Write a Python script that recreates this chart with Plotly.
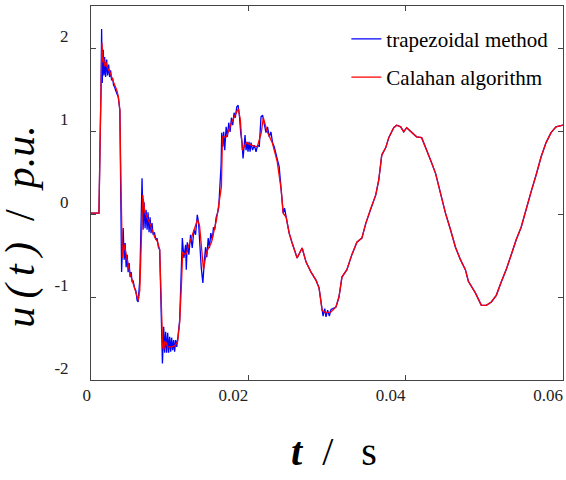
import plotly.graph_objects as go

# ---- data (time in ms, voltage in p.u.) ----
trap_t_ms = [
    0, 1.01, 1.27, 1.35, 1.43, 1.56, 1.65, 1.73, 1.86, 1.99,
    2.11, 2.24, 2.37, 2.49, 2.62, 2.75, 2.87, 3.00, 3.13, 3.25,
    3.46, 3.67, 3.80, 3.89, 4.09, 4.22, 4.34, 4.47, 4.60, 4.72,
    4.85, 4.97, 5.10, 5.23, 5.35, 5.53, 5.70, 5.86, 5.99, 6.20,
    6.49, 6.62, 6.75, 6.87, 7.00, 7.13, 7.25, 7.38, 7.51, 7.63,
    7.76, 7.89, 8.06, 8.23, 8.39, 8.57, 8.73, 8.95, 9.08, 9.24,
    9.37, 9.49, 9.62, 9.75, 9.87, 10.00, 10.13, 10.25, 10.38, 10.51,
    10.63, 10.76, 10.89, 11.05, 11.27, 11.61, 11.81, 12.03, 12.11, 12.24,
    12.44, 12.66, 12.87, 13.08, 13.29, 13.51, 13.67, 14.01, 14.22, 14.39,
    14.56, 14.72, 14.90, 15.06, 15.23, 15.41, 15.57, 15.73, 15.91, 16.08,
    16.24, 16.54, 16.62, 16.75, 16.87, 17.00, 17.18, 17.34, 17.51, 17.68,
    17.85, 18.01, 18.19, 18.35, 18.52, 18.70, 18.86, 19.03, 19.20, 19.33,
    19.46, 19.58, 19.71, 19.84, 19.96, 20.09, 20.22, 20.34, 20.54, 20.76,
    20.98, 21.18, 21.39, 21.61, 21.81, 22.03, 22.24, 22.44, 22.66, 22.87,
    23.08, 23.29, 23.51, 23.71, 23.92, 24.18, 24.43, 24.60, 24.81, 25.19,
    25.57, 26.20, 26.84, 27.34, 27.97, 28.61, 28.99, 29.37, 29.50, 29.72,
    29.87, 30.08, 30.30, 30.51, 31.14, 31.52, 31.90, 32.53, 33.16, 33.80,
    34.43, 34.94, 35.57, 36.20, 36.58, 36.96, 37.47, 37.85, 38.48, 38.86,
    39.37, 39.75, 40.13, 40.76, 41.39, 42.03, 42.53, 43.16, 43.80, 44.43,
    45.06, 45.70, 46.33, 46.96, 47.59, 47.97, 48.86, 49.62, 50.25, 50.89,
    51.52, 52.15, 52.78, 53.42, 54.05, 54.68, 55.32, 55.95, 56.58, 57.22,
    57.85, 58.48, 59.11, 59.75, 60.00,
]
trap_u = [
    0.01, 0.01, 1.50, 2.23, 1.58, 1.98, 1.67, 1.89, 1.65, 1.86,
    1.67, 1.80, 1.65, 1.73, 1.61, 1.64, 1.55, 1.53, 1.49, 1.46,
    1.41, 1.25, 0.41, -0.70, -0.17, -0.55, -0.35, -0.64, -0.49, -0.70,
    -0.59, -0.76, -0.70, -0.82, -0.80, -0.89, -0.92, -1.04, -1.06, -0.80,
    0.43, -0.19, 0.14, -0.17, 0.05, -0.19, 0.02, -0.22, -0.04, -0.23,
    -0.11, -0.25, -0.22, -0.31, -0.29, -0.40, -0.43, -1.48, -1.80, -1.36,
    -1.67, -1.42, -1.67, -1.43, -1.67, -1.48, -1.66, -1.49, -1.64, -1.52,
    -1.66, -1.52, -1.60, -1.48, -1.28, -0.29, -0.53, -0.37, -0.67, -0.34,
    -0.49, -0.25, -0.41, -0.19, -0.25, -0.01, -0.10, -0.64, -0.83, -0.59,
    -0.40, -0.52, -0.29, -0.41, -0.23, -0.31, -0.16, -0.19, -0.04, 0.01,
    0.08, 0.60, 0.98, 0.81, 0.99, 0.77, 1.05, 0.93, 1.10, 0.99,
    1.16, 1.07, 1.22, 1.16, 1.29, 1.31, 1.19, 0.98, 0.86, 0.67,
    0.81, 0.95, 0.77, 0.87, 0.75, 0.87, 0.75, 0.86, 0.77, 0.83,
    0.75, 0.83, 0.81, 1.17, 1.19, 1.07, 0.98, 1.05, 0.93, 0.99,
    0.86, 0.81, 0.71, 0.65, 0.57, 0.29, 0.01, 0.07, -0.04, -0.23,
    -0.35, -0.53, -0.41, -0.58, -0.70, -0.80, -0.89, -1.16, -1.23, -1.14,
    -1.24, -1.16, -1.23, -1.15, -1.12, -1.00, -0.76, -0.67, -0.49, -0.34,
    -0.29, -0.11, 0.07, 0.23, 0.41, 0.71, 0.80, 0.92, 1.04, 1.07,
    1.05, 0.99, 1.04, 0.99, 0.93, 0.92, 0.81, 0.65, 0.49, 0.25,
    0.01, -0.19, -0.40, -0.55, -0.67, -0.81, -0.95, -1.10, -1.10, -1.06,
    -0.98, -0.82, -0.67, -0.49, -0.31, -0.16, 0.07, 0.27, 0.47, 0.69,
    0.86, 0.98, 1.05, 1.07, 1.07,
]

cal_t_ms = [
    0, 1.01, 1.20, 1.39, 1.52, 1.58, 1.77, 1.90, 2.03, 2.40,
    2.78, 3.29, 3.48, 3.67, 3.80, 3.92, 3.99, 4.24, 4.43, 4.56,
    4.94, 5.32, 5.82, 6.01, 6.20, 6.39, 6.58, 6.84, 7.47, 8.10,
    8.48, 8.73, 8.92, 9.11, 9.24, 9.37, 9.49, 9.75, 10.25, 10.63,
    11.01, 11.27, 11.52, 11.65, 12.03, 12.53, 13.16, 13.54, 13.80, 14.05,
    14.30, 14.68, 15.32, 15.95, 16.33, 16.58, 16.71, 17.22, 17.85, 18.48,
    18.73, 18.99, 19.24, 19.75, 20.38, 21.14, 21.65, 21.90, 22.41, 23.04,
    23.67, 24.18, 24.43, 24.81, 25.19, 25.57, 26.20, 26.84, 27.34, 27.97,
    28.61, 28.99, 29.37, 29.87, 30.51, 31.14, 31.52, 31.90, 32.53, 33.16,
    33.80, 34.43, 34.94, 35.57, 36.20, 36.58, 36.96, 37.47, 37.85, 38.48,
    38.86, 39.37, 39.75, 40.13, 40.76, 41.39, 42.03, 42.53, 43.16, 43.80,
    44.43, 45.06, 45.70, 46.33, 46.96, 47.59, 47.97, 48.86, 49.62, 50.25,
    50.89, 51.52, 52.15, 52.78, 53.42, 54.05, 54.68, 55.32, 55.95, 56.58,
    57.22, 57.85, 58.48, 59.11, 59.75, 60.00,
]
cal_u = [
    0.01, 0.01, 1.13, 2.06, 1.83, 1.88, 1.78, 1.83, 1.77, 1.71,
    1.61, 1.49, 1.41, 1.25, 0.41, -0.31, -0.53, -0.37, -0.49, -0.53,
    -0.71, -0.83, -0.98, -1.04, -0.92, -0.19, 0.23, 0.02, -0.11, -0.28,
    -0.34, -0.43, -1.04, -1.60, -1.64, -1.54, -1.54, -1.60, -1.60, -1.59,
    -1.54, -1.31, -0.80, -0.46, -0.49, -0.35, -0.19, -0.07, -0.14, -0.43,
    -0.67, -0.46, -0.34, -0.07, 0.17, 0.33, 0.93, 0.93, 1.10, 1.23,
    1.27, 1.13, 0.77, 0.86, 0.83, 0.81, 0.98, 1.16, 0.99, 0.86,
    0.63, 0.29, 0.01, -0.04, -0.23, -0.35, -0.53, -0.41, -0.58, -0.70,
    -0.80, -0.89, -1.16, -1.19, -1.18, -1.12, -1.00, -0.76, -0.67, -0.49,
    -0.34, -0.29, -0.11, 0.07, 0.23, 0.41, 0.71, 0.80, 0.92, 1.04,
    1.07, 1.05, 0.99, 1.04, 0.99, 0.93, 0.92, 0.81, 0.65, 0.49,
    0.25, 0.01, -0.19, -0.40, -0.55, -0.67, -0.81, -0.95, -1.10, -1.10,
    -1.06, -0.98, -0.82, -0.67, -0.49, -0.31, -0.16, 0.07, 0.27, 0.47,
    0.69, 0.86, 0.98, 1.05, 1.07, 1.07,
]

x_tick_vals = [0, 0.02, 0.04, 0.06]
x_tick_text = ["\u2007\u2007\u20080", "0.02", "0.04", "0.06"]
y_tick_vals = [-2, -1, 0, 1, 2]
y_tick_text = ["-2", "-1", "0", "1", "2"]

series_names = ["trapezoidal method", "Calahan algorithm"]

FONT = "Liberation Serif, Times New Roman, Times, serif"
AXIS_COLOR = "#444444"

fig = go.Figure()
fig.add_trace(go.Scatter(
    x=[v / 1000.0 for v in trap_t_ms], y=trap_u, mode="lines",
    line=dict(color="#0000FF", width=1.3), name=series_names[0], legendgroup="g1",
))
fig.add_trace(go.Scatter(
    x=[v / 1000.0 for v in cal_t_ms], y=cal_u, mode="lines",
    line=dict(color="#FF0000", width=1.3), name=series_names[1], legendgroup="g2",
))

axis_common = dict(
    ticks="inside", ticklen=5, tickwidth=1, tickcolor=AXIS_COLOR,
    showline=True, linecolor=AXIS_COLOR, linewidth=1, mirror="allticks",
    showgrid=False, zeroline=False, automargin=False,
    tickfont=dict(family=FONT, size=17, color="#222222"),
)

fig.update_layout(
    width=566, height=480,
    margin=dict(l=91, r=3, t=6, b=100, autoexpand=False),
    paper_bgcolor="white", plot_bgcolor="white",
    font=dict(family=FONT, color="black"),
    showlegend=True,
    legend=dict(
        x=0.541, xanchor="left", y=0.966, yanchor="top",
        bgcolor="rgba(0,0,0,0)", borderwidth=0,
        font=dict(family=FONT, size=21, color="black"),
        traceorder="grouped", tracegroupgap=8,
    ),
    xaxis=dict(range=[0, 0.06], tickvals=x_tick_vals, ticktext=x_tick_text,
               ticklabelshift=-15, **axis_common),
    yaxis=dict(range=[-2.0, 2.506], tickvals=y_tick_vals, ticktext=y_tick_text,
               ticklabelshift=-12, ticklabelstandoff=18, **axis_common),
    annotations=[
        dict(text="<b><i>t</i></b>\u00a0\u00a0/\u00a0\u00a0\u2009s", xref="paper", yref="paper",
             x=0.515, y=-0.19, xanchor="center", yanchor="middle", showarrow=False,
             font=dict(family=FONT, size=40, color="black")),
        dict(text="<i>u\u2009(\u2009t\u2009)</i>\u00a0\u00a0/\u00a0\u00a0<i>p.u.</i>",
             xref="paper", yref="paper",
             x=-0.150, y=0.41, xanchor="center", yanchor="middle", showarrow=False,
             textangle=-90, font=dict(family=FONT, size=42, color="black")),
    ],
)

fig.write_html(
    "out.html",
    config={"responsive": False, "displayModeBar": False},
    post_script="document.body.style.margin='0';document.body.style.overflow='hidden';",
)
